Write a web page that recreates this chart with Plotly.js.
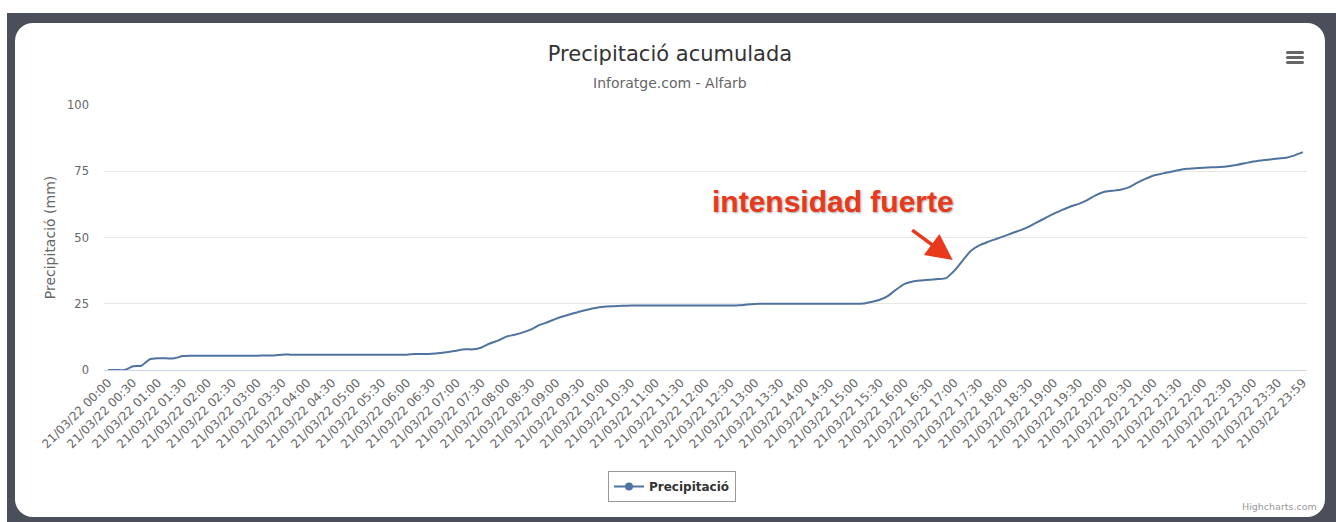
<!DOCTYPE html>
<html>
<head>
<meta charset="utf-8">
<script src="https://cdn.plot.ly/plotly-3.0.1.min.js"></script>
<style>
  html, body { margin: 0; padding: 0; background: #ffffff; width: 1336px; height: 522px; overflow: hidden; }
  #frame { position: absolute; left: 7px; top: 13px; width: 1329px; height: 509px; background: #4b4f59; }
  #card { position: absolute; left: 15px; top: 23px; width: 1310px; height: 494px; background: #ffffff; border-radius: 18px; overflow: hidden; }
  #chart { position: absolute; left: 0; top: 0; width: 1310px; height: 494px; }
  .bar { position: absolute; left: 1271px; width: 18px; height: 3px; background: #666666; border-radius: 1.5px; }
</style>
</head>
<body>
<div id="frame"></div>
<div id="card">
  <div id="chart"></div>
  <div class="bar" style="top:28px"></div>
  <div class="bar" style="top:33px"></div>
  <div class="bar" style="top:38px"></div>
</div>
<script>
const datePrefix = "21/03/22 ";
const times = [
  "00:00","00:10","00:20","00:30","00:40","00:50",
  "01:00","01:10","01:20","01:30","01:40","01:50",
  "02:00","02:10","02:20","02:30","02:40","02:50",
  "03:00","03:10","03:20","03:30","03:40","03:50",
  "04:00","04:10","04:20","04:30","04:40","04:50",
  "05:00","05:10","05:20","05:30","05:40","05:50",
  "06:00","06:10","06:20","06:30","06:40","06:50",
  "07:00","07:10","07:20","07:30","07:40","07:50",
  "08:00","08:10","08:20","08:30","08:40","08:50",
  "09:00","09:10","09:20","09:30","09:40","09:50",
  "10:00","10:10","10:20","10:30","10:40","10:50",
  "11:00","11:10","11:20","11:30","11:40","11:50",
  "12:00","12:10","12:20","12:30","12:40","12:50",
  "13:00","13:10","13:20","13:30","13:40","13:50",
  "14:00","14:10","14:20","14:30","14:40","14:50",
  "15:00","15:10","15:20","15:30","15:40","15:50",
  "16:00","16:10","16:20","16:30","16:40","16:50",
  "17:00","17:10","17:20","17:30","17:40","17:50",
  "18:00","18:10","18:20","18:30","18:40","18:50",
  "19:00","19:10","19:20","19:30","19:40","19:50",
  "20:00","20:10","20:20","20:30","20:40","20:50",
  "21:00","21:10","21:20","21:30","21:40","21:50",
  "22:00","22:10","22:20","22:30","22:40","22:50",
  "23:00","23:10","23:20","23:30","23:40","23:50",
  "23:59"
];
const precipitacio = [
  0, 0, 0, 1.4, 1.6, 4.0,
  4.4, 4.4, 4.4, 5.3, 5.4, 5.4,
  5.4, 5.4, 5.4, 5.4, 5.4, 5.4,
  5.4, 5.5, 5.5, 5.8, 5.8, 5.8,
  5.8, 5.8, 5.8, 5.8, 5.8, 5.8,
  5.8, 5.8, 5.8, 5.8, 5.8, 5.8,
  5.8, 6.0, 6.0, 6.1, 6.4, 6.8,
  7.3, 7.8, 7.8, 8.5, 10.0, 11.1,
  12.6, 13.3, 14.2, 15.3, 17.0, 18.1,
  19.4, 20.4, 21.3, 22.2, 22.9, 23.6,
  24.0, 24.1, 24.2, 24.3, 24.3, 24.3,
  24.3, 24.3, 24.3, 24.3, 24.3, 24.3,
  24.3, 24.3, 24.3, 24.3, 24.4, 24.7,
  24.9, 25.0, 25.0, 25.0, 25.0, 25.0,
  25.0, 25.0, 25.0, 25.0, 25.0, 25.0,
  25.0, 25.1, 25.7, 26.5, 28.0, 30.4,
  32.5, 33.4, 33.8, 34.1, 34.3, 34.7,
  37.5, 41.3, 45.0, 47.0, 48.3, 49.4,
  50.5, 51.7, 52.8, 54.1, 55.8, 57.4,
  59.0, 60.4, 61.7, 62.7, 64.1, 65.9,
  67.2, 67.6, 68.0, 68.9, 70.6, 72.1,
  73.4, 74.1, 74.7, 75.4, 75.9, 76.1,
  76.3, 76.5, 76.6, 76.9, 77.4, 78.0,
  78.7, 79.1, 79.4, 79.8, 80.1, 81.0,
  82.2
];
const tickTimes = [
  "00:00","00:30","01:00","01:30","02:00","02:30","03:00","03:30",
  "04:00","04:30","05:00","05:30","06:00","06:30","07:00","07:30",
  "08:00","08:30","09:00","09:30","10:00","10:30","11:00","11:30",
  "12:00","12:30","13:00","13:30","14:00","14:30","15:00","15:30",
  "16:00","16:30","17:00","17:30","18:00","18:30","19:00","19:30",
  "20:00","20:30","21:00","21:30","22:00","22:30","23:00","23:30",
  "23:59"
];
const yTicks = [0, 25, 50, 75, 100];

const categories = times.map(t => datePrefix + t);
const tickCats = tickTimes.map(t => datePrefix + t);

const FONT = "DejaVu Sans, sans-serif";
const lineColor = "#4f739f";

const traces = [
  {
    type: "scatter", mode: "lines", x: categories, y: precipitacio,
    line: { color: lineColor, width: 2, shape: "spline", smoothing: 0.6 },
    showlegend: false, hoverinfo: "x+y"
  },
  {
    type: "scatter", mode: "lines+markers", x: [null], y: [null],
    name: "Precipitació",
    line: { color: lineColor, width: 2 },
    marker: { color: lineColor, size: 8, symbol: "circle" },
    showlegend: true
  }
];

const layout = {
  width: 1310, height: 494,
  margin: { l: 89, r: 18, t: 82, b: 147 },
  paper_bgcolor: "rgba(0,0,0,0)",
  plot_bgcolor: "#ffffff",
  font: { family: FONT, color: "#666666" },
  title: {
    text: "Precipitació acumulada",
    font: { family: FONT, size: 21, color: "#333333" },
    x: 0.5, xref: "container", xanchor: "center",
    y: 1 - 31 / 494, yref: "container", yanchor: "middle"
  },
  xaxis: {
    type: "category",
    range: [-0.5, categories.length - 0.5],
    tickmode: "array", tickvals: tickCats, ticktext: tickCats,
    tickangle: -45,
    tickfont: { family: FONT, size: 12, color: "#666666" },
    showgrid: false, zeroline: false,
    showline: true, linecolor: "#ccd6eb", linewidth: 1,
    ticks: "", automargin: false, fixedrange: true
  },
  yaxis: {
    range: [0, 100],
    tickmode: "array", tickvals: yTicks,
    tickfont: { family: FONT, size: 11.5, color: "#666666" },
    showgrid: true, gridcolor: "#e6e6e6", gridwidth: 1,
    zeroline: false, showline: false, ticks: "",
    ticklabelstandoff: 14,
    title: { text: "Precipitació (mm)", standoff: 8,
             font: { family: FONT, size: 14, color: "#666666" } },
    automargin: true, fixedrange: true
  },
  legend: {
    orientation: "h",
    x: (657 - 89) / 1203, xanchor: "center",
    y: -101 / 265, yanchor: "top",
    bgcolor: "#ffffff", bordercolor: "#999999", borderwidth: 1,
    font: { family: FONT, size: 12, color: "#333333", weight: "bold" }
  },
  annotations: [
    {
      text: "Inforatge.com - Alfarb",
      xref: "paper", yref: "paper",
      x: (655 - 89) / 1203, xanchor: "center",
      y: 1 + (82 - 60) / 265, yanchor: "middle",
      showarrow: false,
      font: { family: FONT, size: 14, color: "#666666" }
    },
    {
      text: "intensidad fuerte",
      xref: "paper", yref: "paper",
      x: (833 - 15 - 89) / 1203, xanchor: "center",
      y: 1 - (202 - 23 - 82) / 265, yanchor: "middle",
      showarrow: false,
      font: { family: "Liberation Sans, Arial, sans-serif", size: 30, color: "#e8391d", weight: "bold",
              shadow: "1px 1px 2px rgba(0,0,0,0.35)" }
    },
    {
      text: "",
      xref: "x", yref: "y",
      x: 101.8, y: 41.5,
      ax: -42, ay: -31,
      showarrow: true, arrowhead: 2, arrowsize: 1.5, arrowwidth: 3.5,
      arrowcolor: "#e8391d", standoff: 0
    },
    {
      text: "Highcharts.com",
      xref: "paper", yref: "paper",
      x: (1304 - 89) / 1203, xanchor: "right",
      y: -(491 - 347) / 265, yanchor: "bottom",
      showarrow: false,
      font: { family: FONT, size: 9.5, color: "#999999" }
    }
  ],
  showlegend: true
};

Plotly.newPlot("chart", traces, layout, { displayModeBar: false, staticPlot: true });
</script>
</body>
</html>
